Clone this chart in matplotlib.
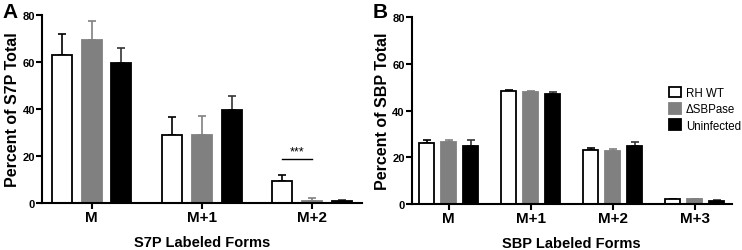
import numpy as np
import matplotlib.pyplot as plt

plt.rcParams['font.family'] = ['Liberation Sans', 'DejaVu Sans']

groups_a = ['M', 'M+1', 'M+2']
groups_b = ['M', 'M+1', 'M+2', 'M+3']
series = ['RH WT', '\u0394SBPase', 'Uninfected']

# Panel A: S7P
s7p_wt = [63, 29, 9.5]
s7p_wt_err = [9, 7.5, 2.5]
s7p_ko = [69.5, 29, 1.0]
s7p_ko_err = [8, 8, 1.0]
s7p_un = [59.5, 39.5, 0.8]
s7p_un_err = [6.5, 6, 0.7]

# Panel B: SBP
sbp_wt = [26, 48.5, 23, 2.0]
sbp_wt_err = [1.3, 0.3, 1.0, 0.3]
sbp_ko = [26.5, 48, 22.5, 2.0]
sbp_ko_err = [1.0, 0.3, 1.0, 0.2]
sbp_un = [25, 47.3, 25, 1.5]
sbp_un_err = [2.2, 0.7, 1.5, 0.3]

face = ['white', '#808080', 'black']
edge = ['black', '#808080', 'black']
ecol = ['black', '#808080', '#333333']


def panel(ax, groups, vals, errs, xlabel, ylabel):
    x = np.arange(len(groups))
    w = 0.18
    off = 0.27
    for i in range(3):
        ax.bar(x + (i - 1) * off, vals[i], w, color=face[i], edgecolor=edge[i],
               linewidth=1.3, label=series[i], zorder=2)
        ax.errorbar(x + (i - 1) * off, vals[i], yerr=[np.zeros(len(groups)), errs[i]],
                    fmt='none', ecolor=ecol[i], elinewidth=1.2, capsize=3,
                    capthick=1.2, zorder=1)
    ax.set_xlim(-0.45, len(groups) - 1 + 0.45)
    ax.set_ylim(0, 80)
    ax.set_yticks([0, 20, 40, 60, 80])
    ax.set_xticks(x)
    ax.set_xticklabels(groups, fontsize=11, fontweight='bold')
    for t in ax.get_yticklabels():
        t.set_fontweight('bold')
        t.set_fontsize(8)
    ax.set_xlabel(xlabel, fontsize=10.5, fontweight='bold', labelpad=8)
    ax.set_ylabel(ylabel, fontsize=11.5, fontweight='bold', labelpad=2)
    for s in ['top', 'right']:
        ax.spines[s].set_visible(False)
    for s in ['left', 'bottom']:
        ax.spines[s].set_linewidth(1.5)
    ax.tick_params(width=1.5, length=4, pad=1)


fig = plt.figure(figsize=(7.42, 2.51), dpi=100)
axa = fig.add_axes([0.0566, 0.187, 0.431, 0.749])
axb = fig.add_axes([0.555, 0.183, 0.431, 0.745])

panel(axa, groups_a, [s7p_wt, s7p_ko, s7p_un], [s7p_wt_err, s7p_ko_err, s7p_un_err],
      'S7P Labeled Forms', 'Percent of S7P Total')
panel(axb, groups_b, [sbp_wt, sbp_ko, sbp_un], [sbp_wt_err, sbp_ko_err, sbp_un_err],
      'SBP Labeled Forms', 'Percent of SBP Total')

# significance marker
axa.plot([2 - 0.27, 2], [18.7, 18.7], color='black', linewidth=1)
axa.text(2 - 0.135, 19.5, '***', ha='center', va='bottom', fontsize=9)

leg = axb.legend(loc='upper left', bbox_to_anchor=(0.79, 0.65), frameon=False,
                 fontsize=8.3, handlelength=1.0, handleheight=1.0,
                 handletextpad=0.45, labelspacing=0.35, borderaxespad=0)

fig.text(0.003, 0.99, 'A', fontsize=15, fontweight='bold', va='top')
fig.text(0.502, 0.99, 'B', fontsize=15, fontweight='bold', va='top')

fig.savefig('out.png', dpi=100)
